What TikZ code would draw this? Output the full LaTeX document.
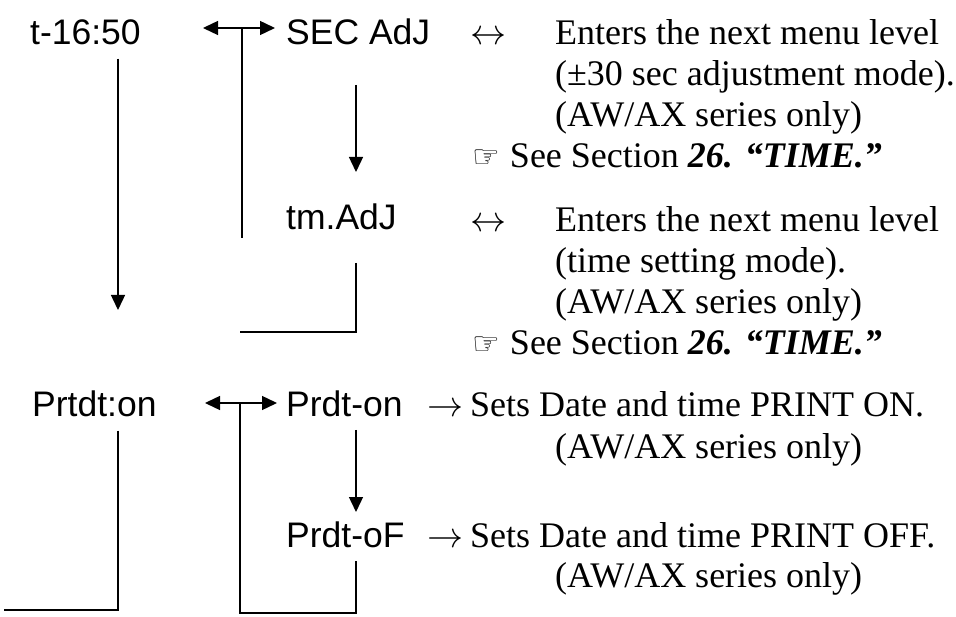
\RequirePackage{fix-cm}
\documentclass[tikz,border=0pt]{standalone}
\usepackage{fontspec}
\setmainfont{Liberation Serif}
\setsansfont{Liberation Sans}
\newfontfamily\handfont{DejaVu Sans}
\usetikzlibrary{positioning,arrows.meta}
\newcommand{\seetime}{{\handfont\fontsize{31}{31}\selectfont ☞}\hspace{10pt}See Section \textbf{\textit{26. “TIME.”}}}
\newcommand{\awax}{(AW/AX series only)}

\begin{document}
\begin{tikzpicture}[
    x=1pt, y=-1pt,
    key/.style={font=\sffamily\fontsize{35.5}{41}\selectfont, inner sep=0pt, anchor=base west},
    desc/.style={font=\fontsize{36}{41}\selectfont, inner sep=0pt, anchor=base west, align=left},
    sym/.style={font=\fontsize{36}{41}\selectfont, inner sep=0pt, anchor=base west},
    ln/.style={line width=1.4pt},
    ar/.style={ln, -{Triangle[length=15pt,width=14pt]}},
    dar/.style={ln, {Triangle[length=15pt,width=14pt]}-{Triangle[length=15pt,width=14pt]}},
]
\useasboundingbox (0,0) rectangle (956,617);

% Left column (menu items).
\node[key] (t_1650)  at (30,45)   {t-16:50};
\node[key] (prt_dt)  at (32,417)  {Prtdt:on};

% Middle column (sub-menu items).
\node[key] (sec_adj) at (286,45)  {SEC AdJ};
\node[key] (tm_adj)  at (286,230) {tm.AdJ};
\node[key] (prdt_on) at (286,417) {Prdt-on};
\node[key] (prdt_of) at (286,547) {Prdt-oF};

% Right column (what each item does); a multi-line node sits on its last line.
\node[sym]  (sym_sec)  at (470,45)  {$\leftrightarrow$};
\node[desc] (desc_sec) at (555,127) {Enters the next menu level\\(±30 sec adjustment mode).\\\awax};
\node[desc] (see_sec)  at (472,168) {\seetime};
\node[sym]  (sym_tm)   at (470,232) {$\leftrightarrow$};
\node[desc] (desc_tm)  at (555,314) {Enters the next menu level\\(time setting mode).\\\awax};
\node[desc] (see_tm)   at (472,355) {\seetime};
\node[sym]  (sym_on)   at (427,417) {$\rightarrow$};
\node[desc] (desc_on)  at (470,417) {Sets Date and time PRINT ON.};
\node[desc] (note_on)  at (555,458) {\awax};
\node[sym]  (sym_of)   at (427,547) {$\rightarrow$};
\node[desc] (desc_of)  at (470,547) {Sets Date and time PRINT OFF.};
\node[desc] (note_of)  at (555,587) {\awax};

% Loose ends of the connectors.
\coordinate (t_down)  at (118,310);
\coordinate (sec_l)   at (203,28);
\coordinate (sec_r)   at (275,28);
\coordinate (sec_up)  at (242,238);
\coordinate (tm_back) at (240,332);
\coordinate (prt_end) at (4,610);
\coordinate (on_l)    at (205,403);
\coordinate (on_r)    at (277,403);
\coordinate (of_back) at (240,613);

% Time branch.
\draw[ar] (t_1650.south -| t_down) ++(0,13) -- (t_down);
\draw[dar] (sec_l) -- (sec_r);
\draw[ln] (sec_l -| sec_up) -- (sec_up);
\draw[ar] ([xshift=70pt,yshift=-40pt]sec_adj.base west) -- ([xshift=70pt,yshift=58pt]tm_adj.base west);
\draw[ln] ([xshift=70pt,yshift=-33pt]tm_adj.base west) |- (tm_back);

% Print branch.
\draw[ln] (prt_dt.south -| t_down) ++(0,13) |- (prt_end);
\draw[dar] (on_l) -- (on_r);
\draw[ln] (on_l -| of_back) -- (of_back) -| ([xshift=70pt,yshift=-14pt]prdt_of.base west);
\draw[ar] ([xshift=70pt,yshift=-13pt]prdt_on.base west) -- ([xshift=70pt,yshift=35pt]prdt_of.base west);
\end{tikzpicture}
\end{document}
